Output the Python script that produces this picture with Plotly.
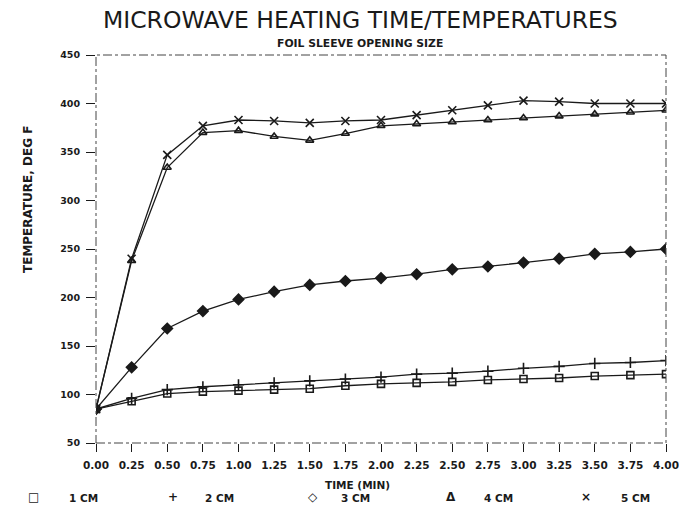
import plotly.graph_objects as go

# ---- data ----
time_min = [0.00, 0.25, 0.50, 0.75, 1.00, 1.25, 1.50, 1.75, 2.00,
            2.25, 2.50, 2.75, 3.00, 3.25, 3.50, 3.75, 4.00]
cm1 = [85, 93, 101, 103, 104, 105, 106, 109, 111, 112, 113, 115, 116, 117, 119, 120, 121]
cm2 = [85, 96, 105, 108, 110, 112, 114, 116, 118, 121, 122, 124, 127, 129, 132, 133, 135]
cm3 = [85, 128, 168, 186, 198, 206, 213, 217, 220, 224, 229, 232, 236, 240, 245, 247, 250]
cm4 = [85, 238, 334, 370, 372, 366, 362, 369, 377, 379, 381, 383, 385, 387, 389, 391, 393]
cm5 = [85, 240, 347, 377, 383, 382, 380, 382, 383, 388, 393, 398, 403, 402, 400, 400, 400]

series_names = ["1 CM", "2 CM", "3 CM", "4 CM", "5 CM"]
series_values = [cm1, cm2, cm3, cm4, cm5]
series_symbols = ["square-open", "cross-thin-open", "diamond", "triangle-up-open", "x-thin-open"]
legend_glyphs = ["\u25a1", "+", "\u25c7", "\u0394", "\u00d7"]

x_ticks = time_min
x_tick_labels = [f"{v:.2f}" for v in time_min]
y_ticks = [50, 100, 150, 200, 250, 300, 350, 400, 450]

BOLD = "DejaVu Sans"
INK = "#1a1a1a"

fig = go.Figure()
for name, vals, sym in zip(series_names, series_values, series_symbols):
    size = 8 if sym in ("diamond", "cross-thin-open", "x-thin-open") else 7
    fig.add_trace(go.Scatter(
        x=time_min, y=vals, name=name, mode="lines+markers",
        line=dict(color=INK, width=1.3),
        marker=dict(symbol=sym, size=size, color=INK,
                    line=dict(color=INK, width=1.6)),
        showlegend=False,
    ))

W, H = 679, 505
# plot area on screen: x 96..666, y 55..443
L, R, T, B = 96, 13, 55, 62
pw, ph = W - L - R, H - T - B

def px_x(sx):
    return (sx - L) / pw

def px_y(sy):
    return (H - B - sy) / ph

annotations = [
    dict(text="MICROWAVE HEATING TIME/TEMPERATURES", x=px_x(360), y=px_y(20),
         xref="paper", yref="paper", showarrow=False, xanchor="center", yanchor="middle",
         font=dict(family="DejaVu Sans", size=23.5, color=INK)),
    dict(text="<b>FOIL SLEEVE OPENING SIZE</b>", x=px_x(360), y=px_y(43),
         xref="paper", yref="paper", showarrow=False, xanchor="center", yanchor="middle",
         font=dict(family=BOLD, size=10.8, color=INK)),
    dict(text="<b>TIME (MIN)</b>", x=px_x(357), y=px_y(485),
         xref="paper", yref="paper", showarrow=False, xanchor="center", yanchor="middle",
         font=dict(family=BOLD, size=10.5, color=INK)),
    dict(text="<b>TEMPERATURE, DEG F</b>", x=px_x(28), y=px_y(200), textangle=-90,
         xref="paper", yref="paper", showarrow=False, xanchor="center", yanchor="middle",
         font=dict(family=BOLD, size=12, color=INK)),
]

glyph_px = [33, 173, 313, 451, 586]
label_px = [67, 203, 339, 482, 619]
for g, gx, lx, name in zip(legend_glyphs, glyph_px, label_px, series_names):
    annotations.append(dict(text=f"<b>{g}</b>", x=px_x(gx), y=px_y(497),
                            xref="paper", yref="paper", showarrow=False,
                            xanchor="center", yanchor="middle",
                            font=dict(family=BOLD, size=12, color=INK)))
    annotations.append(dict(text=f"<b>{name}</b>", x=px_x(lx), y=px_y(498),
                            xref="paper", yref="paper", showarrow=False,
                            xanchor="left", yanchor="middle",
                            font=dict(family=BOLD, size=10.5, color=INK)))

fig.update_layout(
    width=W, height=H, autosize=False,
    margin=dict(l=L, r=R, t=T, b=B, pad=0, autoexpand=False),
    paper_bgcolor="white", plot_bgcolor="white",
    annotations=annotations,
    shapes=[dict(type="rect", xref="x domain", yref="y domain",
                 x0=0, x1=1, y0=0, y1=1,
                 line=dict(color="#444", width=1, dash="dashdot"))],
    xaxis=dict(range=[0, 4], tickmode="array", tickvals=x_ticks, ticktext=x_tick_labels,
               showgrid=False, zeroline=False, showline=False, automargin=False,
               ticks="outside", ticklen=8, tickwidth=1, tickcolor=INK,
               ticklabelstandoff=4, ticklabeloverflow="allow",
               tickfont=dict(family=BOLD, size=10.5, color=INK, weight="bold")),
    yaxis=dict(range=[50, 450], tickmode="array", tickvals=y_ticks,
               showgrid=False, zeroline=False, showline=False, automargin=False,
               ticks="outside", ticklen=9, tickwidth=1, tickcolor=INK,
               ticklabelstandoff=4,
               tickfont=dict(family=BOLD, size=9.5, color=INK, weight="bold")),
)

fig.write_html(
    "out.html",
    config={"displayModeBar": False},
    post_script="document.body.style.margin='0';document.body.style.overflow='hidden';",
)
